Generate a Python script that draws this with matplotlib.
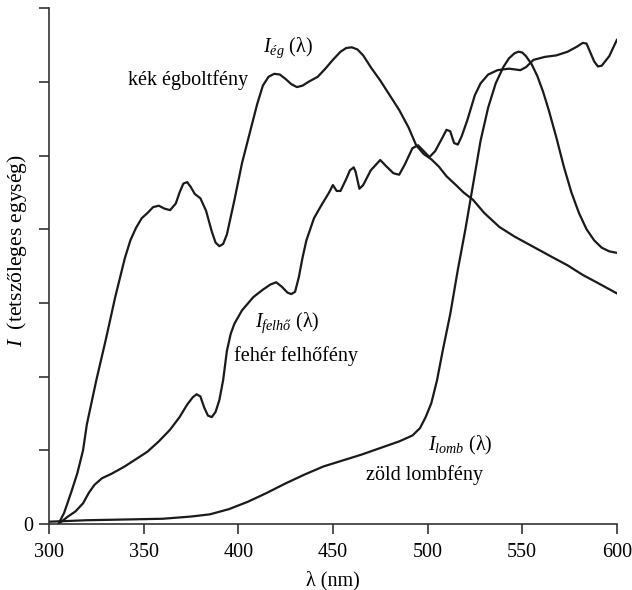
import numpy as np
import matplotlib
matplotlib.use("Agg")
from matplotlib import pyplot as plt

plt.rcParams['font.family'] = ['Liberation Serif', 'DejaVu Serif']
plt.rcParams['mathtext.fontset'] = 'custom'
plt.rcParams['mathtext.rm'] = 'Liberation Serif'
plt.rcParams['mathtext.it'] = 'Liberation Serif:italic'

# blue sky light
sky_x = [305, 308, 312, 315, 318, 320, 325, 330, 335, 340, 343, 346, 349, 352, 355, 358, 361, 364,
         367, 369, 371, 373, 375, 377, 380, 383, 386, 388, 390, 392, 394, 398, 402, 406, 410, 413,
         416, 419, 422, 425, 428, 431, 434, 437, 442, 446, 450, 454, 457, 460, 463, 466, 470, 475,
         480, 485, 490, 494, 498, 502, 506, 510, 515, 519, 524, 530, 538, 546, 556, 566, 574, 582,
         590, 600]
sky_y = [0.0, 0.15, 0.45, 0.69, 1.0, 1.35, 1.95, 2.5, 3.08, 3.6, 3.85, 4.02, 4.15, 4.22, 4.3, 4.32,
         4.28, 4.26, 4.35, 4.5, 4.62, 4.64, 4.57, 4.48, 4.42, 4.25, 3.97, 3.82, 3.77, 3.8, 3.93, 4.4,
         4.9, 5.3, 5.7, 5.95, 6.07, 6.11, 6.1, 6.04, 5.97, 5.93, 5.95, 6.0, 6.07, 6.18, 6.3, 6.41,
         6.46, 6.47, 6.44, 6.36, 6.2, 6.02, 5.82, 5.62, 5.38, 5.14, 5.02, 4.95, 4.85, 4.72, 4.6, 4.5,
         4.4, 4.22, 4.03, 3.9, 3.76, 3.62, 3.51, 3.38, 3.27, 3.13]

# white cloud light
cloud_x = [305, 310, 314, 318, 321, 324, 328, 333, 340, 346, 352, 358, 364, 369, 373, 376, 378, 380,
           382, 384, 386, 388, 390, 392, 394, 396, 398, 402, 408, 413, 417, 420, 423, 426, 428, 430,
           432, 434, 436, 440, 444, 448, 450, 452, 454, 457, 459, 461, 462, 464, 466, 470, 475, 478,
           482, 485, 488, 492, 495, 498, 501, 504, 508, 510, 512, 514, 516, 518, 521, 525, 528, 532,
           537, 543, 549, 552, 556, 562, 568, 574, 579, 582, 584, 586, 588, 590, 592, 596, 600]
cloud_y = [0.0, 0.1, 0.17, 0.28, 0.42, 0.53, 0.62, 0.68, 0.78, 0.88, 0.98, 1.12, 1.28, 1.45, 1.62,
           1.72, 1.76, 1.73, 1.58, 1.47, 1.45, 1.52, 1.68, 1.95, 2.35, 2.58, 2.72, 2.9, 3.08, 3.18,
           3.25, 3.28, 3.22, 3.14, 3.12, 3.15, 3.35, 3.62, 3.85, 4.15, 4.33, 4.5, 4.6, 4.52, 4.52, 4.68,
           4.8, 4.84, 4.78, 4.55, 4.6, 4.8, 4.94, 4.86, 4.76, 4.74, 4.88, 5.1, 5.14, 5.06, 4.98, 5.06,
           5.25, 5.35, 5.33, 5.17, 5.15, 5.26, 5.48, 5.82, 5.98, 6.1, 6.16, 6.18, 6.16, 6.2, 6.3, 6.34,
           6.36, 6.41, 6.48, 6.53, 6.52, 6.4, 6.28, 6.21, 6.22, 6.35, 6.57]

# green foliage light
leaf_x = [300, 320, 340, 360, 375, 385, 395, 405, 415, 425, 435, 445, 455, 465, 475, 485, 492, 496,
          499, 502, 505, 508, 512, 516, 520, 524, 528, 532, 536, 540, 543, 546, 548, 550, 552, 555,
          558, 561, 564, 568, 572, 576, 580, 584, 588, 592, 596, 600]
leaf_y = [0.03, 0.05, 0.06, 0.07, 0.1, 0.13, 0.2, 0.3, 0.42, 0.55, 0.67, 0.78, 0.86, 0.94, 1.03,
          1.12, 1.2, 1.3, 1.45, 1.64, 1.95, 2.35, 2.85, 3.45, 4.0, 4.6, 5.2, 5.65, 5.98, 6.2, 6.32,
          6.39, 6.41, 6.4, 6.35, 6.24, 6.08, 5.87, 5.62, 5.25, 4.85, 4.5, 4.22, 4.0, 3.85, 3.75, 3.7,
          3.68]

x_ticks = [300, 350, 400, 450, 500, 550, 600]
y_ticks = [0, 1, 2, 3, 4, 5, 6, 7]

fig = plt.figure(figsize=(6.32, 5.9), dpi=100)
ax = fig.add_axes([0.0775, 0.112, 0.8985, 0.874])

for xs, ys in [(sky_x, sky_y), (cloud_x, cloud_y), (leaf_x, leaf_y)]:
    ax.plot(xs, ys, color='#1a1a1a', lw=1.6, solid_joinstyle='round')

ax.set_xlim(300, 600)
ax.set_ylim(0, 7)
ax.set_xticks(x_ticks)
ax.set_yticks(y_ticks)
ax.set_yticklabels(['0'] + [''] * (len(y_ticks) - 1))
ax.spines['top'].set_visible(False)
ax.spines['right'].set_visible(False)
for s in ['left', 'bottom']:
    ax.spines[s].set_linewidth(1.2)
    ax.spines[s].set_color('#333333')
ax.tick_params(length=7, width=1.2, color='#333333', labelsize=14.5)
ax.tick_params(axis='x', pad=7)
ax.tick_params(axis='y', pad=4)
ax.set_xlabel('λ (nm)', fontsize=14.5, labelpad=6)
ax.set_ylabel('$I$  (tetszőleges egység)', fontsize=15.5)
ax.yaxis.set_label_coords(-0.036, 0.531)

fs = 14.5
ax.text(413, 6.46, r'$I_{ég}$ (λ)', fontsize=fs, ha='left', va='center')
ax.text(341.7, 6.02, 'kék égboltfény', fontsize=fs, ha='left', va='center')
ax.text(408.8, 2.73, r'$I_{felhő}$ (λ)', fontsize=fs, ha='left', va='center')
ax.text(398, 2.28, 'fehér felhőfény', fontsize=fs, ha='left', va='center')
ax.text(500.2, 1.06, r'$I_{lomb}$ (λ)', fontsize=fs, ha='left', va='center')
ax.text(467.5, 0.66, 'zöld lombfény', fontsize=fs, ha='left', va='center')

fig.savefig('out.png', dpi=100)
